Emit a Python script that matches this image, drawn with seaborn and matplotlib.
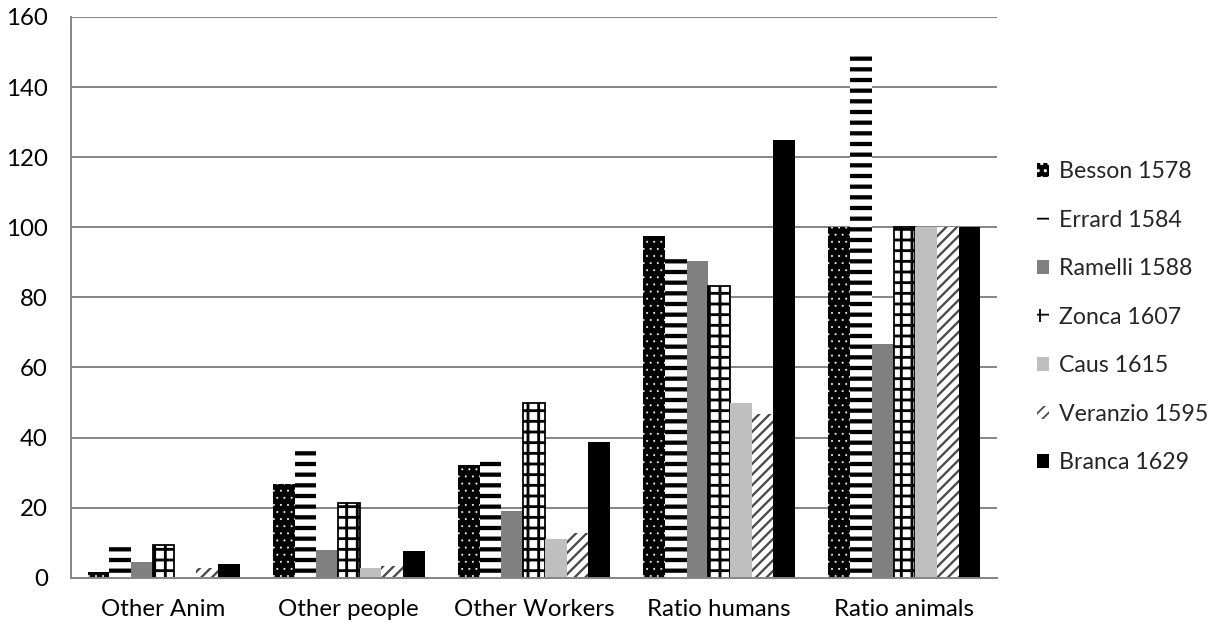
import pandas as pd
import numpy as np
import matplotlib
matplotlib.use("Agg")
import matplotlib.pyplot as plt
import seaborn as sns
from matplotlib.patches import Patch

# =========================================================
# DATA
# =========================================================
categories = ["Other Anim", "Other people", "Other Workers", "Ratio humans", "Ratio animals"]
series = ["Besson 1578", "Errard 1584", "Ramelli 1588", "Zonca 1607",
          "Caus 1615", "Veranzio 1595", "Branca 1629"]

besson = [1.7, 26.8, 32.1, 97.4, 100]
errard = [10.0, 37.5, 34.4, 92.6, 150]
ramelli = [4.5, 8.0, 18.9, 90.3, 66.6]
zonca = [9.4, 21.2, 49.9, 83.1, 100]
caus = [0.0, 2.7, 11.0, 49.8, 100]
veranzio = [2.9, 3.2, 12.7, 46.6, 100]
branca = [3.8, 7.6, 38.6, 124.8, 100]

values = [besson, errard, ramelli, zonca, caus, veranzio, branca]

df = pd.DataFrame({
    "category": np.tile(categories, len(series)),
    "series": np.repeat(series, len(categories)),
    "value": np.concatenate(values),
})

# style per series: face, hatch colour, hatch, hatch lw, outline lw
faces = ["black", "white", "#808080", "white", "#bfbfbf", "white", "black"]
edges = ["white", "black", "#808080", "black", "#bfbfbf", "#4a4a4a", "black"]
hatches = ["...", "--", "", "++", "", "////", ""]
hatch_lw = [0.3, 2.4, 1.0, 1.6, 1.0, 1.3, 1.0]
outline = [0, 0, 0, 1.0, 0, 0, 0]

# =========================================================
# PLOT
# =========================================================
sns.set_style("white")
plt.rcParams['font.family'] = ['Lato', 'DejaVu Sans']

DPI = 128
W, H = 1226, 627
fig = plt.figure(figsize=(W / DPI, H / DPI), dpi=DPI)
ax = fig.add_axes([71 / W, 49.3 / H, 926 / W, 560.7 / H])

sns.barplot(data=df, x="category", y="value", hue="series",
            palette=dict(zip(series, faces)), saturation=1,
            width=0.82, ax=ax, legend=False, errorbar=None)

for i, cont in enumerate(ax.containers):
    for bar in cont:
        bar.set_facecolor(faces[i])
        bar.set_edgecolor(edges[i])
        bar.set_hatch(hatches[i])
        bar.set_linewidth(outline[i])
        if hasattr(bar, "set_hatch_linewidth"):
            bar.set_hatch_linewidth(hatch_lw[i])

ax.set_ylim(0, 160)
ax.set_yticks(range(0, 161, 20))
ax.set_xlim(-0.5, 4.5)
ax.yaxis.grid(True, color="#868686", lw=1.1)
ax.set_axisbelow(True)
ax.set_xlabel("")
ax.set_ylabel("")
for s in ["top", "right"]:
    ax.spines[s].set_visible(False)
for s in ["left", "bottom"]:
    ax.spines[s].set_color("#868686")
    ax.spines[s].set_linewidth(1.1)
ax.tick_params(axis="both", length=0, labelsize=13.5, colors="black")
ax.tick_params(axis="x", pad=12)
ax.tick_params(axis="y", pad=13)

handles = []
for i, name in enumerate(series):
    p = Patch(facecolor=faces[i], edgecolor=edges[i], hatch=hatches[i], lw=0, label=name)
    handles.append(p)
fig.legend(handles=handles, loc="center left", bbox_to_anchor=(0.829, 0.494),
           frameon=False, fontsize=13, handlelength=0.5, handleheight=0.5,
           handletextpad=0.45, labelspacing=1.19)

fig.savefig("out.png", dpi=DPI)
